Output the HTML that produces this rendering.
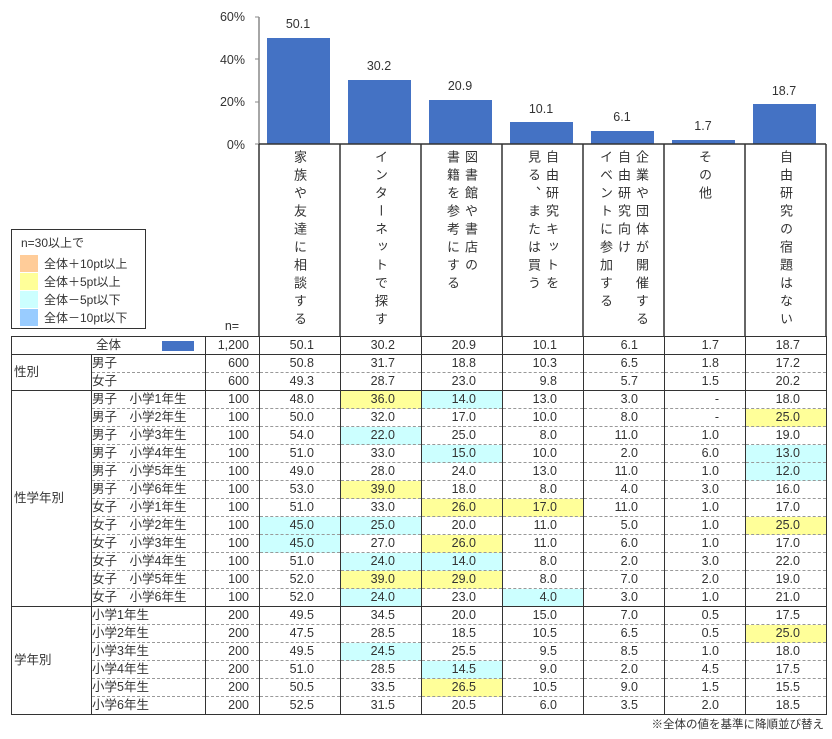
<!DOCTYPE html>
<html><head><meta charset="utf-8"><style>
body{margin:0;width:832px;height:739px;background:#fff;position:relative;overflow:hidden;font-family:"Liberation Sans","Noto Sans CJK JP",sans-serif;color:#333;}
.abs{position:absolute}
table{position:absolute;left:11px;top:336px;border-collapse:collapse;table-layout:fixed;font-size:12.5px;}
td{height:17px;padding:0;border-left:1.5px solid #333;border-right:1.5px solid #333;border-top:1px dashed #999;line-height:17px;white-space:nowrap;}
td.n{text-align:right;padding-right:10px;}
td.v{text-align:right;padding-right:26px;}
tr.g td{border-top:1.5px solid #333;}
td.grp{border-top:1.5px solid #333;border-bottom:1.5px solid #333;vertical-align:middle;padding-left:2px;}
.y{background:#ffff99}.c{background:#ccffff}
.hd{position:absolute;top:150px;height:184px;writing-mode:vertical-rl;font-size:13px;line-height:18px;letter-spacing:5px;white-space:nowrap;}
</style></head><body>
<svg class="abs" style="left:0;top:0" width="832" height="340">
<g font-family="Liberation Sans, Noto Sans CJK JP, sans-serif" font-size="12.5" fill="#333">
<text x="245" y="21" text-anchor="end">60%</text>
<text x="245" y="64" text-anchor="end">40%</text>
<text x="245" y="106" text-anchor="end">20%</text>
<text x="245" y="149" text-anchor="end">0%</text>
</g>
<line x1="259" y1="17" x2="259" y2="144" stroke="#888" stroke-width="1.5"/>
<g stroke="#888"><line x1="255" y1="17" x2="259" y2="17"/><line x1="255" y1="59" x2="259" y2="59"/><line x1="255" y1="102" x2="259" y2="102"/><line x1="255" y1="144" x2="259" y2="144"/></g>
<g fill="#4472c4">
<rect x="267" y="38" width="63" height="106"/>
<rect x="348" y="80" width="63" height="64"/>
<rect x="429" y="100" width="63" height="44"/>
<rect x="510" y="122" width="63" height="22"/>
<rect x="591" y="131" width="63" height="13"/>
<rect x="672" y="140" width="63" height="4"/>
<rect x="753" y="104" width="63" height="40"/>
</g>
<g font-family="Liberation Sans, sans-serif" font-size="12.5" fill="#333" text-anchor="middle">
<text x="298" y="28">50.1</text><text x="379" y="70">30.2</text><text x="460" y="90">20.9</text><text x="541" y="113">10.1</text><text x="622" y="121">6.1</text><text x="703" y="130">1.7</text><text x="784" y="95">18.7</text>
</g>
<g stroke="#333" stroke-width="1.5">
<line x1="259" y1="144" x2="826" y2="144"/>
<line x1="259" y1="144" x2="259" y2="336"/><line x1="340" y1="144" x2="340" y2="336"/><line x1="421" y1="144" x2="421" y2="336"/><line x1="502" y1="144" x2="502" y2="336"/><line x1="583" y1="144" x2="583" y2="336"/><line x1="664" y1="144" x2="664" y2="336"/><line x1="745" y1="144" x2="745" y2="336"/><line x1="826" y1="144" x2="826" y2="336"/>
</g>
<text x="232" y="330" font-size="12.5" fill="#333" text-anchor="middle" font-family="Liberation Sans, sans-serif">n=</text>
</svg>
<div class="hd" style="left:290px">家族や友達に相談する</div>
<div class="hd" style="left:371px">インターネットで探す</div>
<div class="hd" style="left:443px">図書館や書店の<br>書籍を参考にする</div>
<div class="hd" style="left:524px">自由研究キットを<br>見る、または買う</div>
<div class="hd" style="left:596px">企業や団体が開催する<br>自由研究向け<br>イベントに参加する</div>
<div class="hd" style="left:695px">その他</div>
<div class="hd" style="left:776px">自由研究の宿題はない</div>
<div class="abs" style="left:11px;top:229px;width:133px;height:98px;border:1px solid #333;font-size:12px;">
<div style="position:absolute;left:9px;top:4px">n=30以上で</div>
<div style="position:absolute;left:8px;top:25px;width:18px;height:17px;background:#ffcc99"></div><div style="position:absolute;left:32px;top:25px">全体＋10pt以上</div>
<div style="position:absolute;left:8px;top:43px;width:18px;height:17px;background:#ffff99"></div><div style="position:absolute;left:32px;top:43px">全体＋5pt以上</div>
<div style="position:absolute;left:8px;top:61px;width:18px;height:17px;background:#ccffff"></div><div style="position:absolute;left:32px;top:61px">全体－5pt以下</div>
<div style="position:absolute;left:8px;top:79px;width:18px;height:17px;background:#99ccff"></div><div style="position:absolute;left:32px;top:79px">全体－10pt以下</div>
</div>
<table>
<colgroup><col style="width:80px"><col style="width:114px"><col style="width:54px"><col style="width:81px"><col style="width:81px"><col style="width:81px"><col style="width:81px"><col style="width:81px"><col style="width:81px"><col style="width:81px"></colgroup>
<tr class="g"><td colspan="2" style="position:relative"><span style="position:absolute;left:84px;top:0">全体</span><span style="position:absolute;left:150px;top:4px;width:32px;height:10px;background:#4472c4"></span></td><td class="n">1,200</td><td class="v">50.1</td><td class="v">30.2</td><td class="v">20.9</td><td class="v">10.1</td><td class="v">6.1</td><td class="v">1.7</td><td class="v">18.7</td></tr>
<tr class="g"><td class="grp" rowspan="2">性別</td><td>男子</td><td class="n">600</td><td class="v">50.8</td><td class="v">31.7</td><td class="v">18.8</td><td class="v">10.3</td><td class="v">6.5</td><td class="v">1.8</td><td class="v">17.2</td></tr>
<tr><td>女子</td><td class="n">600</td><td class="v">49.3</td><td class="v">28.7</td><td class="v">23.0</td><td class="v">9.8</td><td class="v">5.7</td><td class="v">1.5</td><td class="v">20.2</td></tr>
<tr class="g"><td class="grp" rowspan="12">性学年別</td><td>男子　小学1年生</td><td class="n">100</td><td class="v">48.0</td><td class="v y">36.0</td><td class="v c">14.0</td><td class="v">13.0</td><td class="v">3.0</td><td class="v">-</td><td class="v">18.0</td></tr>
<tr><td>男子　小学2年生</td><td class="n">100</td><td class="v">50.0</td><td class="v">32.0</td><td class="v">17.0</td><td class="v">10.0</td><td class="v">8.0</td><td class="v">-</td><td class="v y">25.0</td></tr>
<tr><td>男子　小学3年生</td><td class="n">100</td><td class="v">54.0</td><td class="v c">22.0</td><td class="v">25.0</td><td class="v">8.0</td><td class="v">11.0</td><td class="v">1.0</td><td class="v">19.0</td></tr>
<tr><td>男子　小学4年生</td><td class="n">100</td><td class="v">51.0</td><td class="v">33.0</td><td class="v c">15.0</td><td class="v">10.0</td><td class="v">2.0</td><td class="v">6.0</td><td class="v c">13.0</td></tr>
<tr><td>男子　小学5年生</td><td class="n">100</td><td class="v">49.0</td><td class="v">28.0</td><td class="v">24.0</td><td class="v">13.0</td><td class="v">11.0</td><td class="v">1.0</td><td class="v c">12.0</td></tr>
<tr><td>男子　小学6年生</td><td class="n">100</td><td class="v">53.0</td><td class="v y">39.0</td><td class="v">18.0</td><td class="v">8.0</td><td class="v">4.0</td><td class="v">3.0</td><td class="v">16.0</td></tr>
<tr><td>女子　小学1年生</td><td class="n">100</td><td class="v">51.0</td><td class="v">33.0</td><td class="v y">26.0</td><td class="v y">17.0</td><td class="v">11.0</td><td class="v">1.0</td><td class="v">17.0</td></tr>
<tr><td>女子　小学2年生</td><td class="n">100</td><td class="v c">45.0</td><td class="v c">25.0</td><td class="v">20.0</td><td class="v">11.0</td><td class="v">5.0</td><td class="v">1.0</td><td class="v y">25.0</td></tr>
<tr><td>女子　小学3年生</td><td class="n">100</td><td class="v c">45.0</td><td class="v">27.0</td><td class="v y">26.0</td><td class="v">11.0</td><td class="v">6.0</td><td class="v">1.0</td><td class="v">17.0</td></tr>
<tr><td>女子　小学4年生</td><td class="n">100</td><td class="v">51.0</td><td class="v c">24.0</td><td class="v c">14.0</td><td class="v">8.0</td><td class="v">2.0</td><td class="v">3.0</td><td class="v">22.0</td></tr>
<tr><td>女子　小学5年生</td><td class="n">100</td><td class="v">52.0</td><td class="v y">39.0</td><td class="v y">29.0</td><td class="v">8.0</td><td class="v">7.0</td><td class="v">2.0</td><td class="v">19.0</td></tr>
<tr><td>女子　小学6年生</td><td class="n">100</td><td class="v">52.0</td><td class="v c">24.0</td><td class="v">23.0</td><td class="v c">4.0</td><td class="v">3.0</td><td class="v">1.0</td><td class="v">21.0</td></tr>
<tr class="g"><td class="grp" rowspan="6">学年別</td><td>小学1年生</td><td class="n">200</td><td class="v">49.5</td><td class="v">34.5</td><td class="v">20.0</td><td class="v">15.0</td><td class="v">7.0</td><td class="v">0.5</td><td class="v">17.5</td></tr>
<tr><td>小学2年生</td><td class="n">200</td><td class="v">47.5</td><td class="v">28.5</td><td class="v">18.5</td><td class="v">10.5</td><td class="v">6.5</td><td class="v">0.5</td><td class="v y">25.0</td></tr>
<tr><td>小学3年生</td><td class="n">200</td><td class="v">49.5</td><td class="v c">24.5</td><td class="v">25.5</td><td class="v">9.5</td><td class="v">8.5</td><td class="v">1.0</td><td class="v">18.0</td></tr>
<tr><td>小学4年生</td><td class="n">200</td><td class="v">51.0</td><td class="v">28.5</td><td class="v c">14.5</td><td class="v">9.0</td><td class="v">2.0</td><td class="v">4.5</td><td class="v">17.5</td></tr>
<tr><td>小学5年生</td><td class="n">200</td><td class="v">50.5</td><td class="v">33.5</td><td class="v y">26.5</td><td class="v">10.5</td><td class="v">9.0</td><td class="v">1.5</td><td class="v">15.5</td></tr>
<tr style="border-bottom:1.5px solid #333"><td>小学6年生</td><td class="n">200</td><td class="v">52.5</td><td class="v">31.5</td><td class="v">20.5</td><td class="v">6.0</td><td class="v">3.5</td><td class="v">2.0</td><td class="v">18.5</td></tr>
</table>
<div class="abs" style="right:8px;top:716px;font-size:11.5px">※全体の値を基準に降順並び替え</div>
</body></html>
